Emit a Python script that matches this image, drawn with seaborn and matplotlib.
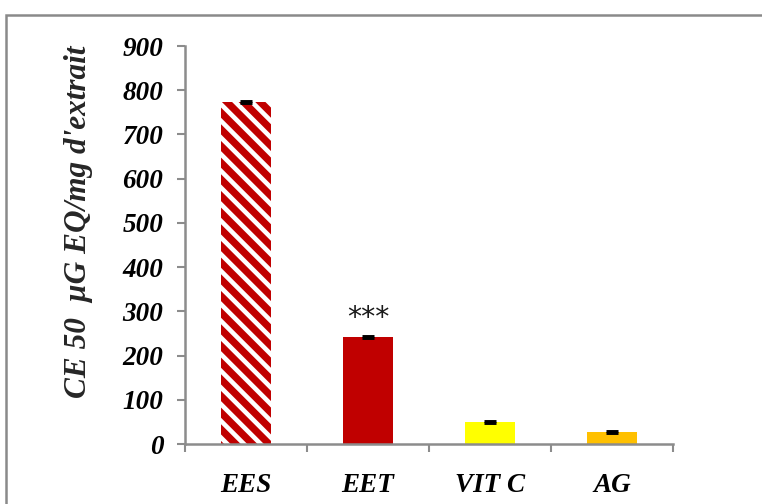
import matplotlib
matplotlib.use("Agg")
import matplotlib.pyplot as plt
from matplotlib.patches import Rectangle
import seaborn as sns
import numpy as np

categories = ["EES", "EET", "VIT C", "AG"]
values = [773, 242, 50, 27]
errors = [1.5, 1.5, 1.5, 1.5]
bar_colors = ["#C00000", "#C00000", "#FFFF00", "#FFC000"]
y_ticks = [0, 100, 200, 300, 400, 500, 600, 700, 800, 900]
significance = ["", "***", "", ""]
y_label = "CE 50  µG EQ/mg d'extrait"

sns.set_theme(style="white")
plt.rcParams["font.family"] = ["Liberation Serif", "DejaVu Serif"]
plt.rcParams["hatch.linewidth"] = 2.2

DPI = 150
fig = plt.figure(figsize=(762 / DPI, 504 / DPI), dpi=DPI)
ax = fig.add_axes([185 / 762, 60 / 504, (673 - 185) / 762, (444 - 46) / 504])

sns.barplot(x=categories, y=values, hue=categories, palette=bar_colors,
            width=0.41, legend=False, ax=ax, linewidth=0, saturation=1,
            errorbar=None)

# hatched first bar: white diagonal stripes over red
first = ax.patches[0]
first.set_hatch("\\\\\\")
first.set_edgecolor("white")
first.set_linewidth(0)

ax.errorbar(np.arange(len(categories)), values, yerr=errors, fmt="none",
            ecolor="black", elinewidth=1.0, capsize=2.9, capthick=1.4)

for i, (v, s) in enumerate(zip(values, significance)):
    if s:
        ax.text(i, v + 44, s, ha="center", va="center", fontsize=13.5,
                family=["DejaVu Sans"], color="#1a1a1a")

ax.set_xlim(-0.5, len(categories) - 0.5)
ax.set_ylim(0, 900)
ax.set_yticks(y_ticks)
ax.set_yticklabels([str(t) for t in y_ticks], fontsize=13, fontweight="bold",
                   fontstyle="italic")
ax.set_xticks(range(len(categories)))
ax.set_xticklabels(categories, fontsize=13, fontweight="bold",
                   fontstyle="italic")
ax.set_xticks(np.arange(-0.5, len(categories)), minor=True)

grey = "#8C8C8C"
for side in ["top", "right"]:
    ax.spines[side].set_visible(False)
for side in ["left", "bottom"]:
    ax.spines[side].set_color(grey)
    ax.spines[side].set_linewidth(1.2)

ax.tick_params(axis="y", which="major", direction="out", length=3.9,
               width=1.0, color=grey, pad=6.5, left=True, labelcolor="black")
ax.tick_params(axis="x", which="major", length=0, pad=14, labelcolor="black")
ax.tick_params(axis="x", which="minor", direction="out", length=3.9,
               width=1.0, color=grey, bottom=True)
ax.set_xlabel("")
ax.set_ylabel("")

fig.text(79 / 762, 1 - 222 / 504, y_label, rotation=90, ha="center",
         va="center", fontsize=15, fontweight="bold", fontstyle="italic")

# outer chart frame
fig.patches.append(Rectangle((6 / 762, -0.2), 1.5, 1.2 - 15 / 504,
                             transform=fig.transFigure, fill=False,
                             edgecolor="#8A8A8A", linewidth=1.2))

fig.savefig("out.png", dpi=DPI)
